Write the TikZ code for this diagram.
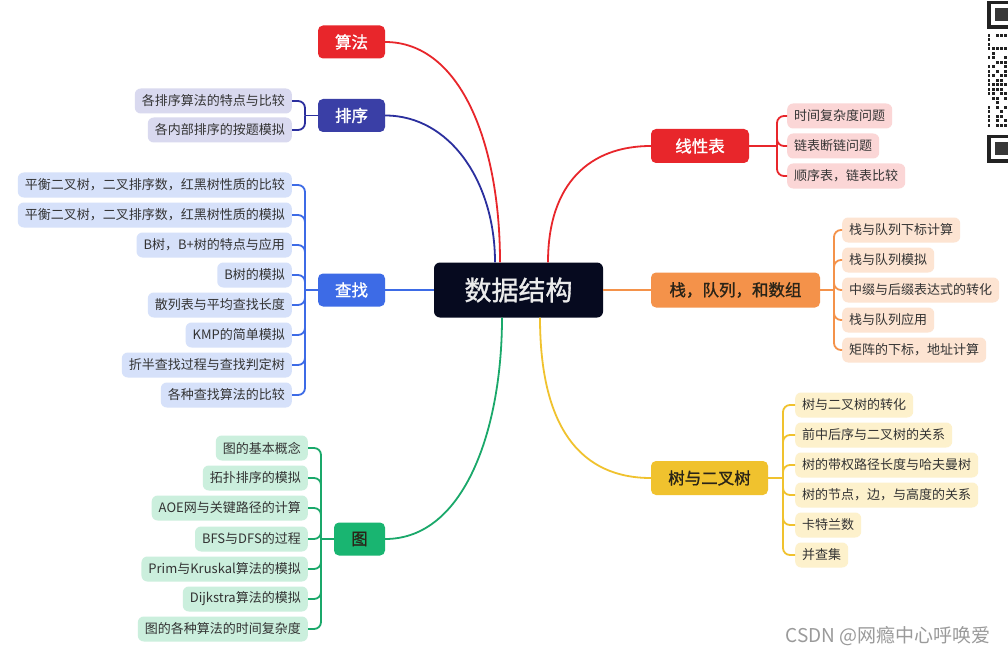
\documentclass[tikz,border=0pt]{standalone}
\usepackage{fontspec}
\setmainfont{Noto Sans CJK SC}
\newfontfamily\boldcjk[FakeBold=1.2]{Noto Sans CJK SC}
\definecolor{cRed}{HTML}{E8262B}
\definecolor{cNavyBox}{HTML}{3A3FA6}
\definecolor{cNavy}{HTML}{2B2F9E}
\definecolor{cBlue}{HTML}{3D6BE6}
\definecolor{cGreenBox}{HTML}{19B571}
\definecolor{cGreen}{HTML}{1AA86A}
\definecolor{cOrange}{HTML}{F4924A}
\definecolor{cYellow}{HTML}{F0C22E}
\definecolor{lLav}{HTML}{D9D9EF}
\definecolor{lBlue}{HTML}{D6E1FA}
\definecolor{lGreen}{HTML}{CBEFDD}
\definecolor{lPink}{HTML}{FBD6D6}
\definecolor{lOrange}{HTML}{FDE4D2}
\definecolor{lYellow}{HTML}{FDF1CC}
\definecolor{cCenter}{HTML}{060A1F}
\definecolor{txt}{HTML}{333333}
\definecolor{darktxt}{HTML}{2A2418}
\definecolor{wm}{HTML}{9A9A9A}
\definecolor{qr}{HTML}{222222}
\tikzset{
  leaf/.style={rounded corners=6pt, inner xsep=7pt, inner ysep=0pt, minimum height=25pt,
    text=txt, font=\fontsize{13}{13}\selectfont},
  leafL/.style={leaf, anchor=east},
  leafR/.style={leaf, anchor=west},
  mainbox/.style={rounded corners=5pt, inner sep=0pt, minimum height=33pt,
    font=\boldcjk\fontsize{16.5}{17}\selectfont},
  conn/.style={line width=1.8pt},
  brk/.style={line width=1.8pt, rounded corners=7pt},
}
\begin{document}
\begin{tikzpicture}[x=1pt,y=-1pt]
\fill[white] (0,0) rectangle (1008,655);
\useasboundingbox (0,0) rectangle (1008,655);

% centre
\node[rounded corners=6pt, fill=cCenter, text=white!92!black, minimum width=169pt, minimum height=55pt,
  inner sep=0pt, font=\boldcjk\fontsize{27}{27}\selectfont] (center) at (518.5,290) {数据结构};

% main topics
\node[mainbox, fill=cRed, text=white, minimum width=67pt] (suanfa) at (351.5,42) {算法};
\node[mainbox, fill=cNavyBox, text=white, minimum width=67pt] (paixu) at (351.5,115.5) {排序};
\node[mainbox, fill=cBlue, text=white, minimum width=67pt] (chazhao) at (351.5,290) {查找};
\node[mainbox, fill=cGreenBox, text=darktxt, minimum width=51pt] (tu) at (359.5,539) {图};
\node[mainbox, fill=cRed, text=white, minimum width=98pt, minimum height=34pt] (xian) at (700,146) {线性表};
\node[mainbox, fill=cOrange, text=darktxt, minimum width=169pt, minimum height=35pt] (zhan) at (735.5,290) {栈，队列，和数组};
\node[mainbox, fill=cYellow, text=darktxt, minimum width=117pt, minimum height=34pt] (shu) at (709.5,478) {树与二叉树};

% main connectors
\draw[conn, cRed] (suanfa.east) .. controls +(75,0) and +(0,-120) .. ([xshift=-18.5pt]center.north);
\draw[conn, cNavy] (paixu.east) .. controls +(65,0) and +(0,-80) .. ([xshift=-23.5pt]center.north);
\draw[conn, cBlue] (chazhao.east) -- (center.west);
\draw[conn, cGreen] (tu.east) .. controls +(80,0) and +(0,110) .. ([xshift=-16.5pt]center.south);
\draw[conn, cRed] ([xshift=29.5pt]center.north) .. controls +(0,-80) and +(-60,0) .. (xian.west);
\draw[conn, cOrange] (center.east) -- (zhan.west);
\draw[conn, cYellow] ([xshift=21.5pt]center.south) .. controls +(0,110) and +(-70,0) .. (shu.west);

% 排序 leaves
\node[leafL, fill=lLav] (p1) at (292,101) {各排序算法的特点与比较};
\node[leafL, fill=lLav] (p2) at (292,130) {各内部排序的按题模拟};
\coordinate (pj) at (305,115.5);
\draw[conn, cNavy] (paixu.west) -- (pj);
\foreach \n in {p1,p2} \draw[brk, cNavy] (pj) |- (\n.east);

% 查找 leaves
\node[leafL, fill=lBlue] (c1) at (292,185) {平衡二叉树，二叉排序数，红黑树性质的比较};
\node[leafL, fill=lBlue] (c2) at (292,215) {平衡二叉树，二叉排序数，红黑树性质的模拟};
\node[leafL, fill=lBlue] (c3) at (292,245) {B树，B+树的特点与应用};
\node[leafL, fill=lBlue] (c4) at (292,275) {B树的模拟};
\node[leafL, fill=lBlue] (c5) at (292,305) {散列表与平均查找长度};
\node[leafL, fill=lBlue] (c6) at (292,335) {KMP的简单模拟};
\node[leafL, fill=lBlue] (c7) at (292,365) {折半查找过程与查找判定树};
\node[leafL, fill=lBlue] (c8) at (292,395) {各种查找算法的比较};
\coordinate (cj) at (305,290);
\draw[conn, cBlue] (chazhao.west) -- (cj);
\foreach \n in {c1,c2,c3,c4,c5,c6,c7,c8} \draw[brk, cBlue] (cj) |- (\n.east);

% 图 leaves
\node[leafL, fill=lGreen] (g1) at (308,448) {图的基本概念};
\node[leafL, fill=lGreen] (g2) at (308,478) {拓扑排序的模拟};
\node[leafL, fill=lGreen] (g3) at (308,508) {AOE网与关键路径的计算};
\node[leafL, fill=lGreen] (g4) at (308,539) {BFS与DFS的过程};
\node[leafL, fill=lGreen] (g5) at (308,569) {Prim与Kruskal算法的模拟};
\node[leafL, fill=lGreen] (g6) at (308,599) {Dijkstra算法的模拟};
\node[leafL, fill=lGreen] (g7) at (308,629) {图的各种算法的时间复杂度};
\coordinate (gj) at (321,539);
\draw[conn, cGreen] (tu.west) -- (gj);
\foreach \n in {g1,g2,g3,g4,g5,g6,g7} \draw[brk, cGreen] (gj) |- (\n.east);

% 线性表 leaves
\node[leafR, fill=lPink] (x1) at (787,116) {时间复杂度问题};
\node[leafR, fill=lPink] (x2) at (787,146) {链表断链问题};
\node[leafR, fill=lPink] (x3) at (787,176) {顺序表，链表比较};
\coordinate (xj) at (777,146);
\draw[conn, cRed] (xian.east) -- (xj);
\foreach \n in {x1,x2,x3} \draw[brk, cRed] (xj) |- (\n.west);

% 栈 leaves
\node[leafR, fill=lOrange] (z1) at (842,230) {栈与队列下标计算};
\node[leafR, fill=lOrange] (z2) at (842,260) {栈与队列模拟};
\node[leafR, fill=lOrange] (z3) at (842,290) {中缀与后缀表达式的转化};
\node[leafR, fill=lOrange] (z4) at (842,320) {栈与队列应用};
\node[leafR, fill=lOrange] (z5) at (842,350) {矩阵的下标，地址计算};
\coordinate (zj) at (834,290);
\draw[conn, cOrange] (zhan.east) -- (zj);
\foreach \n in {z1,z2,z3,z4,z5} \draw[brk, cOrange] (zj) |- (\n.west);

% 树 leaves
\node[leafR, fill=lYellow] (s1) at (795,405) {树与二叉树的转化};
\node[leafR, fill=lYellow] (s2) at (795,435) {前中后序与二叉树的关系};
\node[leafR, fill=lYellow] (s3) at (795,465) {树的带权路径长度与哈夫曼树};
\node[leafR, fill=lYellow] (s4) at (795,495) {树的节点，边，与高度的关系};
\node[leafR, fill=lYellow] (s5) at (795,525) {卡特兰数};
\node[leafR, fill=lYellow] (s6) at (795,555) {并查集};
\coordinate (sj) at (783,478);
\draw[conn, cYellow] (shu.east) -- (sj);
\foreach \n in {s1,s2,s3,s4,s5,s6} \draw[brk, cYellow] (sj) |- (\n.west);

% partial QR code at top right
\fill[qr] (987,1) rectangle (1008,29);
\fill[white] (990.5,4.5) rectangle (1008,25.5);
\fill[qr!90!white] (995,8.5) rectangle (1008,21.5);
\fill[qr] (987,135) rectangle (1008,163);
\fill[white] (990.5,138.5) rectangle (1008,159.5);
\fill[qr!90!white] (995,142.5) rectangle (1008,155.5);
\foreach \c/\r in {0/34,2/34,3/34,4/34, 0/38.5, 0/43, 0/47.5,1/47.5,2/47.5,3/47.5,4/47.5,
  1/52, 0/56.5,1/56.5,4/56.5, 2/61,3/61,4/61, 0/65.5,1/65.5,4/65.5, 0/70,2/70,4/70,
  0/74.5,1/74.5,3/74.5,4/74.5, 0/79,2/79,3/79, 0/83.5,1/83.5,2/83.5,3/83.5,4/83.5,
  0/88,1/88,2/88,3/88, 0/92.5,1/92.5,3/92.5,4/92.5, 1/97,2/97,4/97, 2/101.5,
  0/106,2/106,4/106, 0/110.5,3/110.5, 0/115,2/115,3/115, 0/119.5,2/119.5,4/119.5,
  0/124,2/124,3/124,4/124}
  \fill[qr] (987.5+4.2*\c,\r) rectangle ++(2.8,2.8);

% watermark
\node[text=wm, font=\fontsize{19}{19}\selectfont, inner sep=0pt] (wmk) at (888,636) {CSDN @网瘾中心呼唤爱};
\end{tikzpicture}
\end{document}
